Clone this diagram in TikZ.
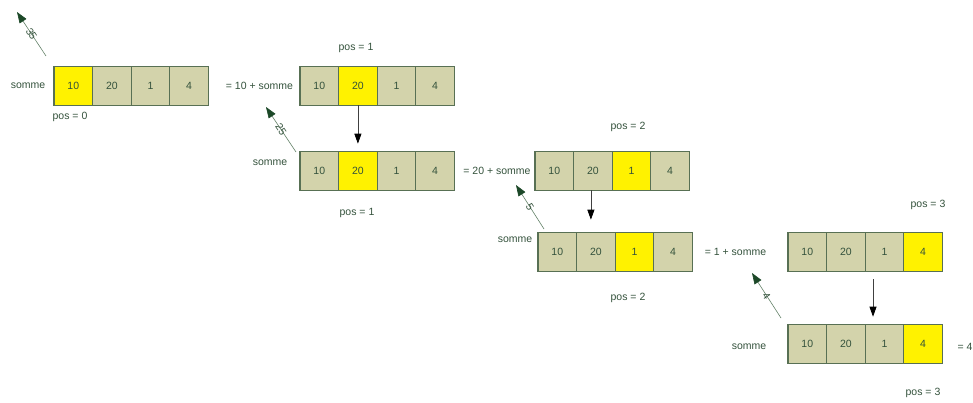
\documentclass[tikz,border=0pt]{standalone}
\usepackage{fontspec}
\setmainfont{Liberation Sans}
\usetikzlibrary{arrows.meta}
\definecolor{cellfill}{RGB}{211,211,171}
\definecolor{cellline}{RGB}{88,112,84}
\definecolor{txt}{RGB}{52,82,60}
\definecolor{backline}{RGB}{100,130,105}
\definecolor{backhead}{RGB}{28,72,40}

\begin{document}
\begin{tikzpicture}[x=1pt,y=-1pt,
    font=\fontsize{10.5}{12}\selectfont,
    cell/.style={draw=cellline, line width=1.1pt, minimum width=38.6pt,
      minimum height=38.6pt, inner sep=0pt, outer sep=0pt, text=txt},
    lbl/.style={text=txt, inner sep=0pt},
    back/.style={draw=backline, line width=0.6pt,
      -{Triangle[length=11pt,width=8pt,color=backhead]}},
    down/.style={draw=black!75, line width=0.8pt,
      -{Triangle[length=10pt,width=7pt,color=black]}}]
    \useasboundingbox (0,0) rectangle (973,403);

    % pos = 0
    \foreach \v/\f [count=\i] in {10/yellow,20/cellfill,1/cellfill,4/cellfill}
      \node[cell, fill=\f] (p0c\i) at ({73.3+38.6*(\i-1)},86) {\v};
    \node[lbl] (s0) at (28,86) {somme};
    \node[lbl] (n0) at (70,117) {pos = 0};
    \node[lbl] (e0) at (259.5,86) {= 10 + somme};

    % pos = 1
    \foreach \v/\f [count=\i] in {10/cellfill,20/yellow,1/cellfill,4/cellfill}
      \node[cell, fill=\f] (p1ac\i) at ({319.3+38.6*(\i-1)},86) {\v};
    \node[lbl] (n1a) at (356,48) {pos = 1};
    \foreach \v/\f [count=\i] in {10/cellfill,20/yellow,1/cellfill,4/cellfill}
      \node[cell, fill=\f] (p1bc\i) at ({319.3+38.6*(\i-1)},171) {\v};
    \node[lbl] (s1) at (270,163) {somme};
    \node[lbl] (n1b) at (357,213) {pos = 1};
    \node[lbl] (e1) at (497,171) {= 20 + somme};

    % pos = 2
    \foreach \v/\f [count=\i] in {10/cellfill,20/cellfill,1/yellow,4/cellfill}
      \node[cell, fill=\f] (p2ac\i) at ({554.3+38.6*(\i-1)},171) {\v};
    \node[lbl] (n2a) at (628,127) {pos = 2};
    \foreach \v/\f [count=\i] in {10/cellfill,20/cellfill,1/yellow,4/cellfill}
      \node[cell, fill=\f] (p2bc\i) at ({557.3+38.6*(\i-1)},252) {\v};
    \node[lbl] (s2) at (515,240) {somme};
    \node[lbl] (n2b) at (628,298) {pos = 2};
    \node[lbl] (e2) at (735.5,252) {= 1 + somme};

    % pos = 3
    \foreach \v/\f [count=\i] in {10/cellfill,20/cellfill,1/cellfill,4/yellow}
      \node[cell, fill=\f] (p3ac\i) at ({807.3+38.6*(\i-1)},252) {\v};
    \node[lbl] (n3a) at (928,205) {pos = 3};
    \foreach \v/\f [count=\i] in {10/cellfill,20/cellfill,1/cellfill,4/yellow}
      \node[cell, fill=\f] (p3bc\i) at ({807.3+38.6*(\i-1)},344) {\v};
    \node[lbl] (s3) at (749,347) {somme};
    \node[lbl] (n3b) at (923,393) {pos = 3};
    \node[lbl] (e3) at (965,347) {= 4};

    % appels
    \draw[down, shorten >=8pt] (p1ac2.south) -- (p1ac2.south |- p1bc2.north);
    \draw[down, shorten >=13pt] ([xshift=-2pt]p2ac2.south) -- ([xshift=-2pt]p2ac2.south |- p2bc2.north);
    \draw[down, shorten <=8pt, shorten >=8pt] ([xshift=-11.5pt]p3ac3.south) -- ([xshift=-11.5pt]p3ac3.south |- p3bc3.north);

    % retours
    \coordinate (q0) at (46,56);
    \coordinate (h0) at (17,12);
    \coordinate (q1) at (296,152);
    \coordinate (h1) at (266,107);
    \coordinate (q2) at (544,229);
    \coordinate (h2) at (516,185);
    \coordinate (q3) at (781,318);
    \coordinate (h3) at (752,273);
    \draw[back] (q0) -- node[lbl, sloped] {35} (h0);
    \draw[back] (q1) -- node[lbl, sloped] {25} (h1);
    \draw[back] (q2) -- node[lbl, sloped] {5} (h2);
    \draw[back] (q3) -- node[lbl, sloped] {4} (h3);
\end{tikzpicture}
\end{document}
